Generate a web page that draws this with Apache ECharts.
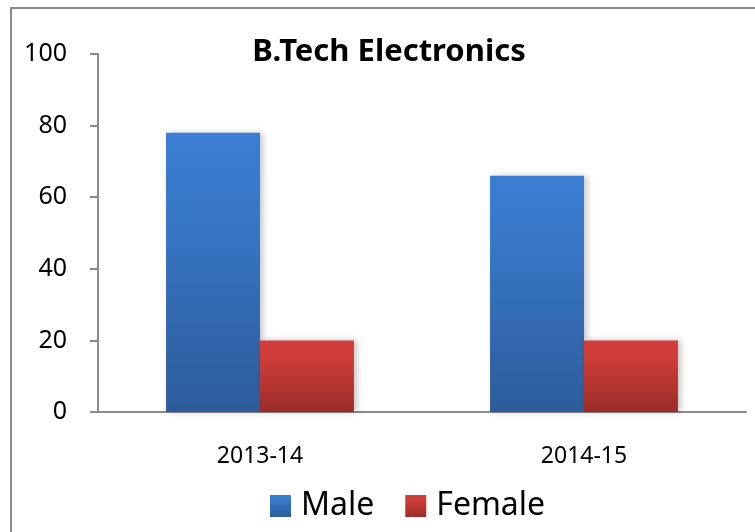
<!DOCTYPE html>
<html>
<head>
<meta charset="utf-8">
<script src="https://cdn.jsdelivr.net/npm/echarts@6/dist/echarts.min.js"></script>
<style>html,body{margin:0;padding:0;background:#fff}#c{width:755px;height:532px}</style>
</head>
<body>
<div id="c"></div>
<script>
const categories = ['2013-14', '2014-15'];
const maleValues = [78, 66];
const femaleValues = [20, 20];
const seriesNames = ['Male', 'Female'];
const titleText = 'B.Tech Electronics';

const FONT = '"Noto Sans", sans-serif';
const chart = echarts.init(document.getElementById('c'));
function grad(top, mid, bottom) {
  return new echarts.graphic.LinearGradient(0, 0, 0, 1, [
    {offset: 0, color: top}, {offset: 0.3, color: mid}, {offset: 1, color: bottom}
  ]);
}
const shadow = {shadowColor: 'rgba(0,0,0,0.22)', shadowBlur: 6, shadowOffsetX: 3, shadowOffsetY: 0};
chart.setOption({
  backgroundColor: '#fff',
  animation: false,
  graphic: [{
    type: 'rect', shape: {x: 11, y: 8, width: 800, height: 600},
    style: {fill: 'none', stroke: '#8a8a8a', lineWidth: 2}, z: 100, silent: true
  }],
  title: {
    text: titleText, left: 384, textAlign: 'center', top: 32,
    textStyle: {fontFamily: FONT, fontSize: 31, fontWeight: 'bold', color: '#000'}
  },
  legend: {
    data: seriesNames, left: 265, top: 485, itemWidth: 21, itemHeight: 22, itemGap: 31,
    icon: 'rect',
    textStyle: {fontFamily: FONT, fontSize: 32, color: '#000', padding: [0, 0, 0, 5]}
  },
  grid: {left: 98, right: 9, top: 54, bottom: 120},
  xAxis: {
    type: 'category', data: categories,
    axisLine: {lineStyle: {color: '#8a8a8a', width: 2}},
    axisTick: {length: 9, lineStyle: {color: '#8a8a8a', width: 2}},
    axisLabel: {fontFamily: FONT, fontSize: 23, color: '#000', margin: 33}
  },
  yAxis: {
    type: 'value', min: 0, max: 100, interval: 20,
    axisLine: {show: true, lineStyle: {color: '#8a8a8a', width: 2}},
    axisTick: {show: true, length: 8, lineStyle: {color: '#8a8a8a', width: 2}},
    splitLine: {show: false},
    axisLabel: {fontFamily: FONT, fontSize: 25, color: '#000', margin: 31}
  },
  series: [
    {name: seriesNames[0], type: 'bar', data: maleValues, barGap: '0%', barCategoryGap: '42%',
     itemStyle: Object.assign({color: grad('#3b7ed1', '#3776c6', '#2c5c9b')}, shadow)},
    {name: seriesNames[1], type: 'bar', data: femaleValues,
     itemStyle: Object.assign({color: grad('#d23f3b', '#cb3c38', '#9c2b29')}, shadow)}
  ]
});
</script>
</body>
</html>
